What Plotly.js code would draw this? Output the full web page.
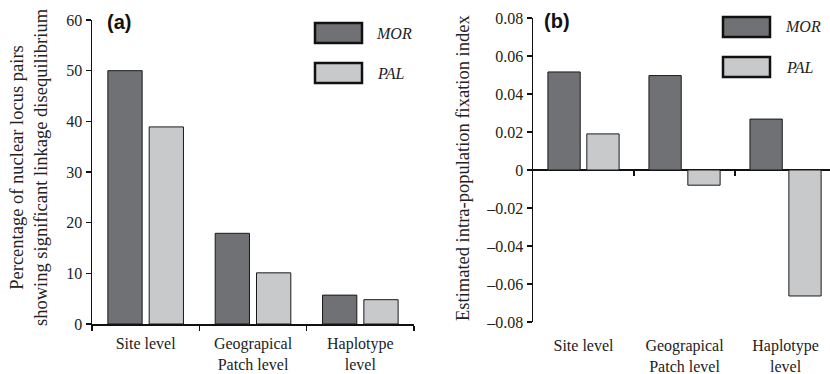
<!DOCTYPE html>
<html>
<head>
<meta charset="utf-8">
<script src="https://cdn.plot.ly/plotly-3.0.1.min.js"></script>
<style>html,body{margin:0;padding:0;background:#fff;}#chart{width:830px;height:374px;}</style>
</head>
<body>
<div id="chart"></div>
<script>
// ---- data ----
const categories = ["Site level", "Geograpical<br>Patch level", "Haplotype<br>level"];
const seriesNames = ["MOR", "PAL"];
const ldMOR = [50, 17.9, 5.7];
const ldPAL = [38.9, 10.1, 4.8];
const fisMOR = [0.0516, 0.0497, 0.0268];
const fisPAL = [0.019, -0.008, -0.0663];
const ldTicks = [0, 10, 20, 30, 40, 50, 60];
const fisTickVals = [-0.08, -0.06, -0.04, -0.02, 0, 0.02, 0.04, 0.06, 0.08];
const fisTickText = ["–0.08", "–0.06", "–0.04", "–0.02", "0", "0.02", "0.04", "0.06", "0.08"];

// ---- style ----
const W = 830, H = 374;
const px = x => x / W, py = y => 1 - y / H;
const colMOR = "#707174", colPAL = "#c8c9cb";
const serif = "Liberation Serif";
const tfont = {family: serif, size: 16, color: "#222"};
const titleFont = {family: serif, size: 18.5, color: "#222"};
const barLine = {color: "#1a1a1a", width: 1};

const traces = [
  {type: "bar", x: categories, y: ldMOR, name: seriesNames[0], xaxis: "x", yaxis: "y",
   marker: {color: colMOR, line: barLine}},
  {type: "bar", x: categories, y: ldPAL, name: seriesNames[1], xaxis: "x", yaxis: "y",
   marker: {color: colPAL, line: barLine}},
  {type: "bar", x: categories, y: fisMOR, name: seriesNames[0], xaxis: "x2", yaxis: "y2",
   marker: {color: colMOR, line: barLine}},
  {type: "bar", x: categories, y: fisPAL, name: seriesNames[1], xaxis: "x2", yaxis: "y2",
   marker: {color: colPAL, line: barLine}},
  // empty helper trace so the zero-line tick axis (x3) is drawn
  {type: "scatter", mode: "markers", x: [], y: [], xaxis: "x3", yaxis: "y2", hoverinfo: "skip"}
];

const axLine = {showline: true, linecolor: "#111", linewidth: 1.5, ticks: "outside",
  ticklen: 5, tickcolor: "#111", tickwidth: 1.5, showgrid: false, zeroline: false, tickfont: tfont};

const layout = {
  width: W, height: H,
  margin: {l: 0, r: 0, t: 0, b: 0},
  paper_bgcolor: "#fff", plot_bgcolor: "rgba(0,0,0,0)",
  font: {family: serif, size: 16, color: "#222"},
  showlegend: false,
  barmode: "group", bargap: 0.23, bargroupgap: 0.17,
  xaxis: Object.assign({}, axLine, {type: "category", domain: [px(92), px(414)], anchor: "y",
    range: [-0.5, 2.5], tickson: "boundaries", ticklabelstandoff: 4}),
  yaxis: Object.assign({}, axLine, {domain: [py(324), py(20)], anchor: "x", range: [0, 60],
    tickvals: ldTicks}),
  xaxis2: {type: "category", domain: [px(533), 1], anchor: "y2", range: [-0.5, 2.44],
    showline: false, ticks: "", showgrid: false, zeroline: false, tickfont: tfont,
    ticklabelstandoff: 12},
  xaxis3: {type: "linear", domain: [px(533), 1], anchor: "free", overlaying: "x2", position: py(170),
    range: [-0.5, 2.44], tickvals: [0.5, 1.5], ticks: "outside", ticklen: 5, tickwidth: 1.5,
    tickcolor: "#111", showticklabels: false, showline: false, showgrid: false, zeroline: false},
  yaxis2: Object.assign({}, axLine, {domain: [py(322), py(18)], anchor: "x2", range: [-0.08, 0.08],
    tickvals: fisTickVals, ticktext: fisTickText, zeroline: true, zerolinecolor: "#111", zerolinewidth: 1.5}),
  shapes: [
    {type: "rect", xref: "paper", yref: "paper", x0: px(315), x1: px(362), y0: py(43), y1: py(23),
     fillcolor: colMOR, line: {color: "#111", width: 2.5}},
    {type: "rect", xref: "paper", yref: "paper", x0: px(315), x1: px(362), y0: py(83), y1: py(63),
     fillcolor: colPAL, line: {color: "#111", width: 2.5}},
    {type: "rect", xref: "paper", yref: "paper", x0: px(723), x1: px(770), y0: py(37), y1: py(17),
     fillcolor: colMOR, line: {color: "#111", width: 2.5}},
    {type: "rect", xref: "paper", yref: "paper", x0: px(723), x1: px(770), y0: py(77), y1: py(57),
     fillcolor: colPAL, line: {color: "#111", width: 2.5}}
  ],
  annotations: [
    {xref: "paper", yref: "paper", x: px(374), y: py(33), xanchor: "left", yanchor: "middle",
     text: "<i>" + seriesNames[0] + "</i>", showarrow: false, font: tfont},
    {xref: "paper", yref: "paper", x: px(375), y: py(73), xanchor: "left", yanchor: "middle",
     text: "<i>" + seriesNames[1] + "</i>", showarrow: false, font: tfont},
    {xref: "paper", yref: "paper", x: px(783), y: py(27), xanchor: "left", yanchor: "middle",
     text: "<i>" + seriesNames[0] + "</i>", showarrow: false, font: tfont},
    {xref: "paper", yref: "paper", x: px(784), y: py(67), xanchor: "left", yanchor: "middle",
     text: "<i>" + seriesNames[1] + "</i>", showarrow: false, font: tfont},
    {xref: "paper", yref: "paper", x: px(119), y: py(22), xanchor: "center", yanchor: "middle",
     text: "<b>(a)</b>", showarrow: false, font: {family: "Liberation Sans", size: 20, color: "#111"}},
    {xref: "paper", yref: "paper", x: px(557), y: py(21), xanchor: "center", yanchor: "middle",
     text: "<b>(b)</b>", showarrow: false, font: {family: "Liberation Sans", size: 20, color: "#111"}},
    {xref: "paper", yref: "paper", x: px(29), y: py(167), xanchor: "center", yanchor: "middle",
     textangle: -90, text: "Percentage of nuclear locus pairs<br>showing significant linkage disequilibrium",
     showarrow: false, font: titleFont},
    {xref: "paper", yref: "paper", x: px(463), y: py(168), xanchor: "center", yanchor: "middle",
     textangle: -90, text: "Estimated intra-population fixation index",
     showarrow: false, font: titleFont}
  ]
};

Plotly.newPlot("chart", traces, layout, {displayModeBar: false, staticPlot: true});
</script>
</body>
</html>
